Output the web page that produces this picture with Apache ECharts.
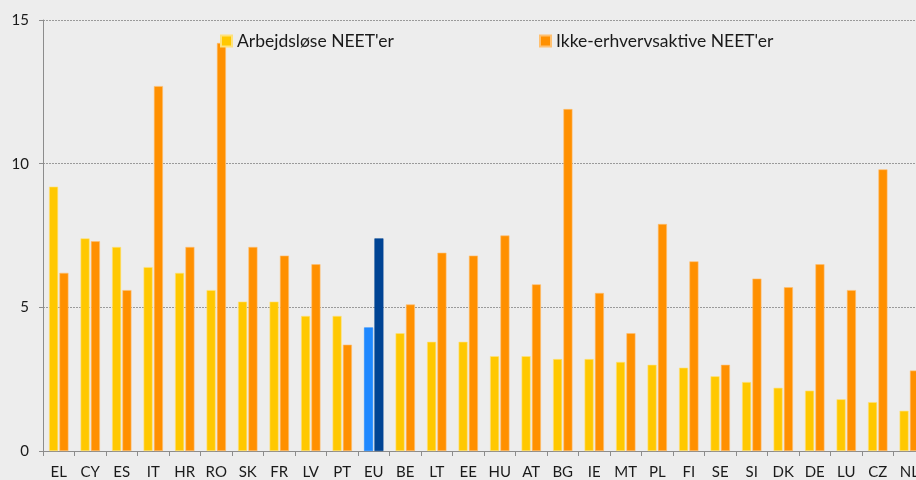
<!DOCTYPE html>
<html><head><meta charset="utf-8">
<script src="https://cdn.jsdelivr.net/npm/echarts@6/dist/echarts.min.js"></script>
<style>html,body{margin:0;padding:0;background:#ededed;overflow:hidden;width:916px;height:480px}#c{width:926px;height:480px}</style>
</head><body><div id="c"></div>
<script>
const categories = ['EL','CY','ES','IT','HR','RO','SK','FR','LV','PT','EU','BE','LT','EE','HU','AT','BG','IE','MT','PL','FI','SE','SI','DK','DE','LU','CZ','NL'];
const unemployed = [9.2,7.4,7.1,6.4,6.2,5.6,5.2,5.2,4.7,4.7,4.3,4.1,3.8,3.8,3.3,3.3,3.2,3.2,3.1,3.0,2.9,2.6,2.4,2.2,2.1,1.8,1.7,1.4];
const inactive = [6.2,7.3,5.6,12.7,7.1,14.2,7.1,6.8,6.5,3.7,7.4,5.1,6.9,6.8,7.5,5.8,11.9,5.5,4.1,7.9,6.6,3.0,6.0,5.7,6.5,5.6,9.8,2.8];
const yTicks = [0,5,10,15];
const seriesNames = ["Arbejdsløse NEET'er","Ikke-erhvervsaktive NEET'er"];

const YEL='#ffc800', ORA='#ff9000', EU1='#1e88ff', EU2='#004494';
const font='Lato';
function mk(vals, euCol){
  return vals.map((v,i)=> categories[i]==='EU' ? {value:v,itemStyle:{color:euCol,borderColor:euCol}} : v);
}
const chart = echarts.init(document.getElementById('c'));
chart.setOption({
  backgroundColor:'#ededed',
  animation:false,
  grid:{left:43, top:20, right:1, height:432},
  legend:[
    {data:[seriesNames[0]], left:215, top:27, itemWidth:11, itemHeight:11, icon:'rect',
     textStyle:{fontFamily:font,fontSize:17.5,color:'#1a1a1a'}},
    {data:[seriesNames[1]], left:534, top:27, itemWidth:11, itemHeight:11, icon:'rect',
     textStyle:{fontFamily:font,fontSize:17.5,color:'#1a1a1a'}}
  ],
  xAxis:{type:'category', data:categories, boundaryGap:true,
    axisLine:{lineStyle:{color:'#8c8c8c',width:1}},
    axisTick:{show:true,interval:0,length:5,lineStyle:{color:'#8c8c8c'}},
    axisLabel:{interval:0,fontFamily:font,fontSize:15,color:'#1a1a1a',margin:14}},
  yAxis:{type:'value', min:yTicks[0], max:yTicks[yTicks.length-1], interval:5,
    axisLine:{show:true,lineStyle:{color:'#8c8c8c'}},
    axisTick:{show:true,length:4,lineStyle:{color:'#8c8c8c'}},
    axisLabel:{fontFamily:font,fontSize:15,color:'#1a1a1a',margin:14},
    splitLine:{show:true,lineStyle:{color:'#9a9a9a',type:[2,1],width:1}}},
  series:[
    {name:seriesNames[0], type:'bar', data:mk(unemployed,EU1), barWidth:9, barGap:'15%',
     itemStyle:{color:YEL, borderColor:'#ffe27a', borderWidth:0.6}},
    {name:seriesNames[1], type:'bar', data:mk(inactive,EU2), barWidth:9, barGap:'15%',
     itemStyle:{color:ORA, borderColor:'#ffc070', borderWidth:0.6}}
  ]
});
</script></body></html>
